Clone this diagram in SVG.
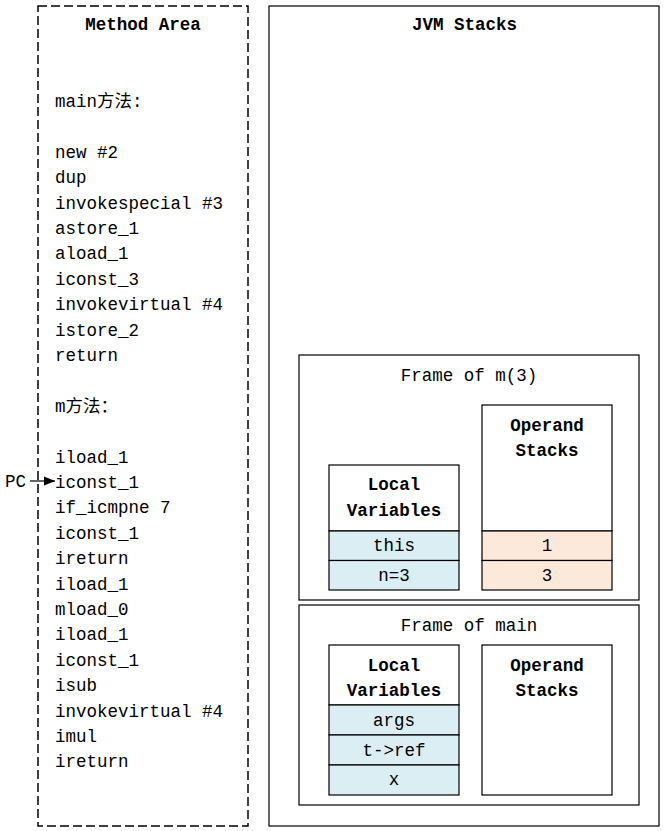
<svg xmlns="http://www.w3.org/2000/svg" width="666" height="831" viewBox="0 0 666 831">
<style>
text{font-family:"Liberation Mono","Noto Sans CJK SC",monospace;font-size:17.5px;fill:#000}
.b{font-weight:bold}
.m{text-anchor:middle}
.box{fill:#fff;stroke:#000;stroke-width:1.2}
.lv{fill:#daeef3;stroke:#000;stroke-width:1.2}
.op{fill:#fde9d9;stroke:#000;stroke-width:1.2}
</style>
<defs>
<marker id="ah" viewBox="0 0 10 10" refX="10" refY="5" markerWidth="11" markerHeight="11" markerUnits="userSpaceOnUse" orient="auto">
<path d="M0,1 L10,5 L0,9 z" fill="#000"/>
</marker>
</defs>
<rect width="666" height="831" fill="#fff"/>
<g id="method-area">
<rect x="38" y="6" width="210" height="820" fill="none" stroke="#000" stroke-width="1.5" stroke-dasharray="9 4"/>
<text class="b m" x="143" y="30">Method Area</text>
<text x="55" y="107">main方法:</text>
<text x="55" y="157.8">new #2</text>
<text x="55" y="183.2">dup</text>
<text x="55" y="208.6">invokespecial #3</text>
<text x="55" y="234">astore_1</text>
<text x="55" y="259.4">aload_1</text>
<text x="55" y="284.8">iconst_3</text>
<text x="55" y="310.2">invokevirtual #4</text>
<text x="55" y="335.6">istore_2</text>
<text x="55" y="361">return</text>
<text x="55" y="411.8">m方法：</text>
<text x="55" y="462.6">iload_1</text>
<text x="55" y="488">iconst_1</text>
<text x="55" y="513.4">if_icmpne 7</text>
<text x="55" y="538.8">iconst_1</text>
<text x="55" y="564.2">ireturn</text>
<text x="55" y="589.6">iload_1</text>
<text x="55" y="615">mload_0</text>
<text x="55" y="640.4">iload_1</text>
<text x="55" y="665.8">iconst_1</text>
<text x="55" y="691.2">isub</text>
<text x="55" y="716.6">invokevirtual #4</text>
<text x="55" y="742">imul</text>
<text x="55" y="767.4">ireturn</text>
</g>
<g id="pc">
<text x="5" y="487">PC</text>
</g>
<g id="jvm-stacks">
<rect class="box" x="269" y="6" width="390" height="820"/>
<text class="b m" x="464.5" y="30">JVM Stacks</text>
</g>
<g id="frame-m3">
<rect class="box" x="299" y="355" width="340" height="245"/>
<text class="m" x="469" y="381">Frame of m(3)</text>
</g>
<g id="m3-local-variables">
<rect class="box" x="329" y="465" width="130" height="66"/>
<text class="b m" x="394" y="490">Local</text>
<text class="b m" x="394" y="516">Variables</text>
<rect class="lv" x="329" y="531" width="130" height="29.5"/>
<text class="m" x="394" y="551">this</text>
<rect class="lv" x="329" y="560.5" width="130" height="29.5"/>
<text class="m" x="394" y="581">n=3</text>
</g>
<g id="m3-operand-stacks">
<rect class="box" x="482" y="405" width="130" height="126"/>
<text class="b m" x="547" y="431">Operand</text>
<text class="b m" x="547" y="456">Stacks</text>
<rect class="op" x="482" y="531" width="130" height="29.5"/>
<text class="m" x="547" y="551">1</text>
<rect class="op" x="482" y="560.5" width="130" height="29.5"/>
<text class="m" x="547" y="581">3</text>
</g>
<g id="frame-main">
<rect class="box" x="299" y="605" width="340" height="200"/>
<text class="m" x="469" y="631">Frame of main</text>
</g>
<g id="main-local-variables">
<rect class="box" x="329" y="645" width="130" height="60"/>
<text class="b m" x="394" y="671">Local</text>
<text class="b m" x="394" y="696">Variables</text>
<rect class="lv" x="329" y="705" width="130" height="30"/>
<text class="m" x="394" y="726">args</text>
<rect class="lv" x="329" y="735" width="130" height="30"/>
<text class="m" x="394" y="756">t->ref</text>
<rect class="lv" x="329" y="765" width="130" height="30"/>
<text class="m" x="394" y="785">x</text>
</g>
<g id="main-operand-stacks">
<rect class="box" x="482" y="645" width="130" height="150"/>
<text class="b m" x="547" y="671">Operand</text>
<text class="b m" x="547" y="696">Stacks</text>
</g>
<g id="connectors">
<line x1="30" y1="481" x2="55" y2="481" stroke="#000" stroke-width="1.2" marker-end="url(#ah)"/>
</g>
</svg>
